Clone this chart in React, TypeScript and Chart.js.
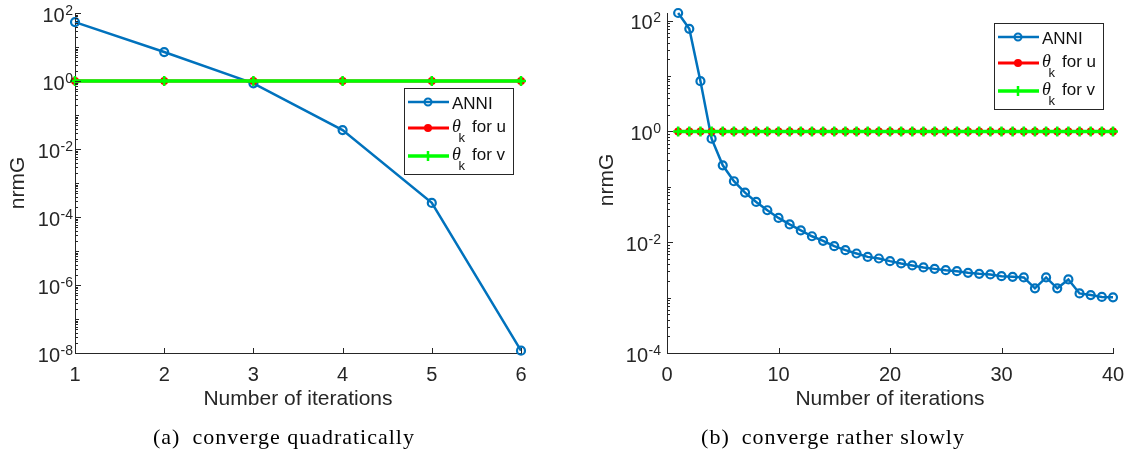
import React, { useEffect, useRef } from 'react';
import { Chart, registerables } from 'chart.js';

Chart.register(...registerables);

// ---------- data ----------
const itersA = [1, 2, 3, 4, 5, 6];
const anniA = [54, 7.1, 0.855, 0.036, 2.6e-4, 1.17e-8];
const thetaUA = [1, 1, 1, 1, 1, 1];
const thetaVA = [1, 1, 1, 1, 1, 1];

const itersB = [
  1, 2, 3, 4, 5, 6, 7, 8, 9, 10, 11, 12, 13, 14, 15, 16, 17, 18, 19, 20,
  21, 22, 23, 24, 25, 26, 27, 28, 29, 30, 31, 32, 33, 34, 35, 36, 37, 38, 39, 40,
];
const anniB = [
  137, 71, 8.06, 0.74, 0.244, 0.126, 0.0785, 0.0532, 0.0377, 0.0274,
  0.0209, 0.0163, 0.0128, 0.0106, 0.00847, 0.00718, 0.00625, 0.00543, 0.00508, 0.00455,
  0.00413, 0.0038, 0.0035, 0.0033, 0.00313, 0.003, 0.0028, 0.00269, 0.00262, 0.00244,
  0.00237, 0.00231, 0.00147, 0.00231, 0.00147, 0.00213, 0.00119, 0.00111, 0.00103, 0.00101,
];
const thetaUB = [
  1, 1, 1, 1, 1, 1, 1, 1, 1, 1, 1, 1, 1, 1, 1, 1, 1, 1, 1, 1,
  1, 1, 1, 1, 1, 1, 1, 1, 1, 1, 1, 1, 1, 1, 1, 1, 1, 1, 1, 1,
];
const thetaVB = [
  1, 1, 1, 1, 1, 1, 1, 1, 1, 1, 1, 1, 1, 1, 1, 1, 1, 1, 1, 1,
  1, 1, 1, 1, 1, 1, 1, 1, 1, 1, 1, 1, 1, 1, 1, 1, 1, 1, 1, 1,
];

const xTicksA = [1, 2, 3, 4, 5, 6];
const xTicksB = [0, 10, 20, 30, 40];
const yExpA = [2, 0, -2, -4, -6, -8];
const yExpB = [2, 0, -2, -4];

const seriesNames = ['ANNI', 'for u', 'for v'];
const xTitle = 'Number of iterations';
const yTitle = 'nrmG';
const captionA = '(a)\u2002converge quadratically';
const captionB = '(b)\u2002converge rather slowly';

// ---------- styles ----------
const SANS = '"Liberation Sans", Arial, Helvetica, sans-serif';
const SERIF = '"Liberation Serif", "Times New Roman", serif';
const AXIS = '#262626';
const BLUE = '#0072BD';
const RED = '#FF0000';
const GREEN = '#00FF00';

type Cfg = {
  xs: number[];
  anni: number[];
  tu: number[];
  tv: number[];
  xMin: number;
  xMax: number;
  xTicks: number[];
  yMin: number;
  yMax: number;
  yExp: number[];
  canvasLeft: number;
  width: number;
  axisLeft: number;
  padRight: number;
  labelGap: number;
  legendX: number;
  legendY: number;
  yTitleX: number;
  yTitleY: number;
};

function drawLegend(ctx: CanvasRenderingContext2D, bx: number, by: number) {
  const w = 109;
  const h = 86;
  ctx.save();
  ctx.fillStyle = '#ffffff';
  ctx.fillRect(bx, by, w, h);
  ctx.strokeStyle = AXIS;
  ctx.lineWidth = 1;
  ctx.strokeRect(bx + 0.5, by + 0.5, w, h);
  const rows = [by + 14, by + 40, by + 68];
  const lx0 = bx + 4;
  const lx1 = bx + 45;
  const mx = bx + 24;
  const tx = bx + 48;

  // ANNI
  ctx.strokeStyle = BLUE;
  ctx.lineWidth = 2.5;
  ctx.beginPath();
  ctx.moveTo(lx0, rows[0]);
  ctx.lineTo(lx1, rows[0]);
  ctx.stroke();
  ctx.lineWidth = 2;
  ctx.beginPath();
  ctx.arc(mx, rows[0], 3.5, 0, Math.PI * 2);
  ctx.stroke();

  // theta u
  ctx.strokeStyle = RED;
  ctx.lineWidth = 3;
  ctx.beginPath();
  ctx.moveTo(lx0, rows[1]);
  ctx.lineTo(lx1, rows[1]);
  ctx.stroke();
  ctx.fillStyle = RED;
  ctx.beginPath();
  ctx.arc(mx, rows[1], 4, 0, Math.PI * 2);
  ctx.fill();

  // theta v
  ctx.strokeStyle = GREEN;
  ctx.lineWidth = 3.5;
  ctx.beginPath();
  ctx.moveTo(lx0, rows[2]);
  ctx.lineTo(lx1, rows[2]);
  ctx.stroke();
  ctx.lineWidth = 2.5;
  ctx.beginPath();
  ctx.moveTo(mx, rows[2] - 5);
  ctx.lineTo(mx, rows[2] + 5);
  ctx.stroke();

  ctx.fillStyle = '#111111';
  ctx.textAlign = 'left';
  ctx.textBaseline = 'alphabetic';
  ctx.font = `17px ${SANS}`;
  ctx.fillText(seriesNames[0], tx, rows[0] + 6.5);
  for (let i = 1; i < 3; i++) {
    const y = rows[i];
    ctx.font = `italic 18px ${SERIF}`;
    ctx.fillText('\u03B8', tx, y + 4);
    ctx.font = `13px ${SANS}`;
    ctx.fillText('k', tx + 6.5, y + 14);
    ctx.font = `17px ${SANS}`;
    ctx.fillText(seriesNames[i], tx + 20, y + 4);
  }
  ctx.restore();
}

function makePlugin(cfg: Cfg) {
  return {
    id: 'panelDeco',
    afterDraw(chart: any) {
      const ctx: CanvasRenderingContext2D = chart.ctx;
      const { left, bottom } = chart.chartArea;
      const ys = chart.scales.y;
      const xs = chart.scales.x;
      ctx.save();
      ctx.strokeStyle = AXIS;
      ctx.lineWidth = 1;
      // y tick marks (inward)
      const eLo = Math.floor(Math.log10(cfg.yMin));
      const eHi = Math.ceil(Math.log10(cfg.yMax));
      for (let e = eLo; e <= eHi; e++) {
        for (let m = 1; m <= 9; m++) {
          const v = m * Math.pow(10, e);
          if (v < cfg.yMin * 0.999 || v > cfg.yMax * 1.001) continue;
          const py = Math.round(ys.getPixelForValue(v)) + 0.5;
          let len = 3;
          if (m === 1) len = cfg.yExp.includes(e) ? 6 : 4;
          ctx.beginPath();
          ctx.moveTo(left, py);
          ctx.lineTo(left + len, py);
          ctx.stroke();
        }
      }
      // x tick marks (inward)
      cfg.xTicks.forEach((v) => {
        const px = Math.round(xs.getPixelForValue(v)) + 0.5;
        ctx.beginPath();
        ctx.moveTo(px, bottom);
        ctx.lineTo(px, bottom - 5);
        ctx.stroke();
      });
      // y tick labels 10^e
      ctx.fillStyle = AXIS;
      ctx.textBaseline = 'alphabetic';
      cfg.yExp.forEach((e) => {
        const py = ys.getPixelForValue(Math.pow(10, e));
        const rightEdge = left - cfg.labelGap;
        const expStr = String(e);
        ctx.font = `14px ${SANS}`;
        const ew = ctx.measureText(expStr).width;
        ctx.textAlign = 'right';
        ctx.fillText(expStr, rightEdge, py + 1.5);
        ctx.font = `20px ${SANS}`;
        ctx.fillText('10', rightEdge - ew - 0.5, py + 8.7);
      });
      // y title
      ctx.save();
      ctx.translate(cfg.yTitleX, cfg.yTitleY);
      ctx.rotate(-Math.PI / 2);
      ctx.textAlign = 'center';
      ctx.textBaseline = 'middle';
      ctx.font = `21px ${SANS}`;
      ctx.fillText(yTitle, 0, 0);
      ctx.restore();
      // legend
      drawLegend(ctx, cfg.legendX, cfg.legendY);
      ctx.restore();
    },
  };
}

function Panel({ cfg }: { cfg: Cfg }) {
  const ref = useRef<HTMLCanvasElement>(null);
  useEffect(() => {
    if (!ref.current) return;
    const toPts = (ys: number[]) => cfg.xs.map((x, i) => ({ x, y: ys[i] }));
    const chart = new Chart(ref.current, {
      type: 'line',
      data: {
        datasets: [
          {
            label: 'ANNI',
            data: toPts(cfg.anni),
            borderColor: BLUE,
            borderWidth: 2.5,
            pointStyle: 'circle',
            pointRadius: 4,
            pointBorderWidth: 2.2,
            pointBorderColor: BLUE,
            pointBackgroundColor: 'rgba(0,0,0,0)',
            tension: 0,
            clip: false,
            order: 3,
          },
          {
            label: 'theta u',
            data: toPts(cfg.tu),
            borderColor: RED,
            borderWidth: 3,
            pointStyle: 'circle',
            pointRadius: 4,
            pointBorderWidth: 0,
            pointBackgroundColor: RED,
            pointBorderColor: RED,
            tension: 0,
            clip: false,
            order: 2,
          },
          {
            label: 'theta v',
            data: toPts(cfg.tv),
            borderColor: GREEN,
            borderWidth: 3.5,
            pointStyle: 'cross',
            pointRadius: 5,
            pointBorderWidth: 2.5,
            pointBorderColor: GREEN,
            pointBackgroundColor: GREEN,
            tension: 0,
            clip: false,
            order: 1,
          },
        ],
      } as any,
      options: {
        animation: false,
        responsive: false,
        maintainAspectRatio: false,
        devicePixelRatio: 1,
        events: [],
        layout: {
          padding: { left: 0, right: cfg.padRight, top: 13, bottom: 454 - 353 - 59 },
        },
        plugins: {
          legend: { display: false },
          tooltip: { enabled: false },
          title: { display: false },
        },
        scales: {
          x: {
            type: 'linear',
            min: cfg.xMin,
            max: cfg.xMax,
            grid: { display: false, drawTicks: false },
            border: { display: true, color: AXIS, width: 1 },
            ticks: {
              color: AXIS,
              font: { family: SANS, size: 20 },
              padding: 10,
              maxRotation: 0,
              autoSkip: false,
            },
            afterBuildTicks: (scale: any) => {
              scale.ticks = cfg.xTicks.map((v) => ({ value: v }));
            },
            afterFit: (scale: any) => {
              scale.height = 59;
            },
            title: {
              display: true,
              text: xTitle,
              color: AXIS,
              font: { family: SANS, size: 21 },
              padding: { top: 0, bottom: 0 },
            },
          },
          y: {
            type: 'logarithmic',
            min: cfg.yMin,
            max: cfg.yMax,
            grid: { display: false, drawTicks: false },
            border: { display: true, color: AXIS, width: 1 },
            ticks: { display: false },
            afterFit: (scale: any) => {
              scale.width = cfg.axisLeft;
            },
          },
        },
      } as any,
      plugins: [makePlugin(cfg)],
    });
    return () => chart.destroy();
  }, [cfg]);
  return (
    <canvas
      ref={ref}
      width={cfg.width}
      height={454}
      style={{
        position: 'absolute',
        left: cfg.canvasLeft,
        top: 0,
        width: cfg.width,
        height: 454,
      }}
    />
  );
}

const cfgA: Cfg = {
  xs: itersA,
  anni: anniA,
  tu: thetaUA,
  tv: thetaVA,
  xMin: 1,
  xMax: 6,
  xTicks: xTicksA,
  yMin: 1e-8,
  yMax: 100,
  yExp: yExpA,
  canvasLeft: 0,
  width: 563,
  axisLeft: 75,
  padRight: 42,
  labelGap: 2,
  legendX: 404,
  legendY: 88,
  yTitleX: 18,
  yTitleY: 183,
};

const cfgB: Cfg = {
  xs: itersB,
  anni: anniB,
  tu: thetaUB,
  tv: thetaVB,
  xMin: 0,
  xMax: 40,
  xTicks: xTicksB,
  yMin: 1e-4,
  yMax: 137,
  yExp: yExpB,
  canvasLeft: 563,
  width: 590,
  axisLeft: 104,
  padRight: 40,
  labelGap: 6,
  legendX: 994 - 563,
  legendY: 23,
  yTitleX: 607 - 563,
  yTitleY: 180,
};

const captionStyle = (cx: number): React.CSSProperties => ({
  position: 'absolute',
  left: cx - 250,
  width: 500,
  top: 424,
  height: 26,
  lineHeight: '26px',
  textAlign: 'center',
  fontFamily: SERIF,
  fontSize: 22,
  letterSpacing: 1,
  color: '#000',
  whiteSpace: 'nowrap',
});

export default function App() {
  return (
    <div
      style={{
        position: 'absolute',
        left: 0,
        top: 0,
        width: 1127,
        height: 454,
        background: '#ffffff',
        overflow: 'hidden',
      }}
    >
      <Panel cfg={cfgA} />
      <Panel cfg={cfgB} />
      <div style={captionStyle(284)}>{captionA}</div>
      <div style={captionStyle(833)}>{captionB}</div>
    </div>
  );
}
